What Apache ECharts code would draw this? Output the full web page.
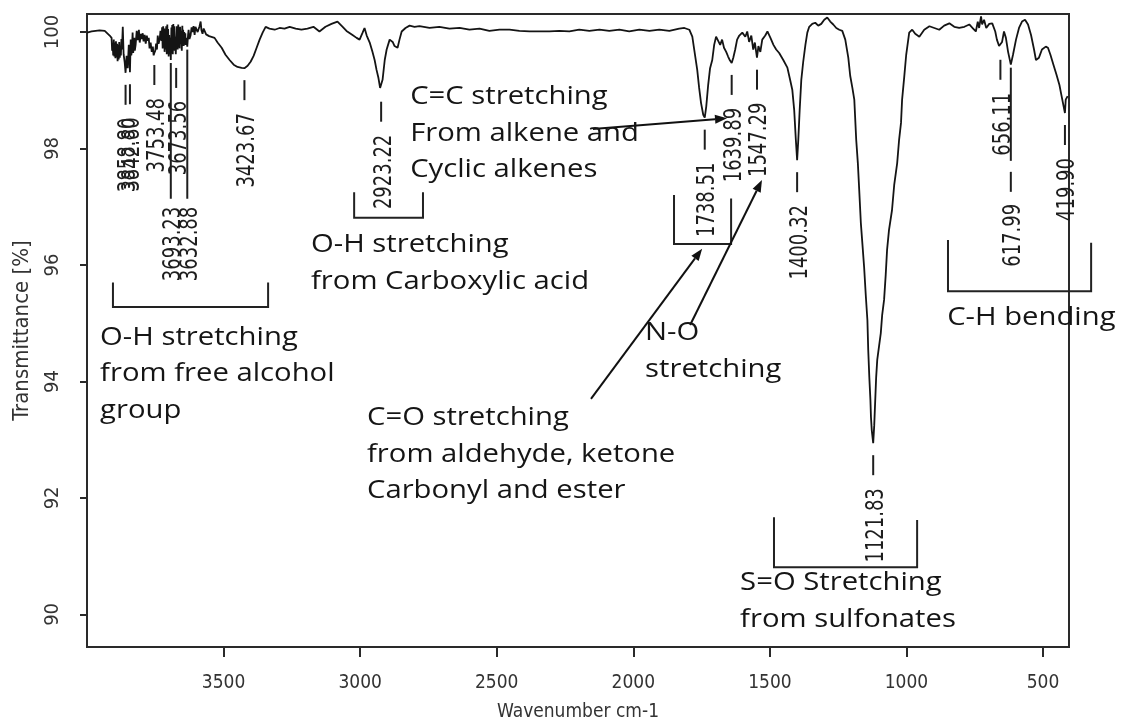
<!DOCTYPE html>
<html>
<head>
<meta charset="utf-8">
<title>FTIR spectrum</title>
<script src="https://cdn.jsdelivr.net/npm/echarts@6/dist/echarts.min.js"></script>
<style>
  html, body { margin: 0; padding: 0; background: #ffffff; }
  #chart { width: 1121px; height: 720px; }
</style>
</head>
<body>
<div id="chart"></div>
<script>
// IR spectrum: wavenumber (cm-1) and transmittance (%), row by row
const wavenumber = [
  4000, 3983, 3954, 3935, 3917, 3910, 3908, 3906, 3904, 3902,
  3900, 3898, 3896, 3894, 3892, 3890, 3888, 3886, 3884, 3882,
  3880, 3878, 3876, 3874, 3872, 3869, 3866, 3862, 3858.80, 3855,
  3851, 3847, 3844, 3842.80, 3840, 3838, 3836, 3833, 3831, 3829,
  3827, 3825, 3822, 3818, 3814, 3810, 3807, 3803, 3800, 3796,
  3793, 3789, 3785, 3781, 3778, 3774, 3771, 3767, 3763, 3759,
  3756, 3753.48, 3750, 3747, 3744, 3741, 3738, 3734, 3731, 3727,
  3725, 3723, 3721, 3719, 3717, 3716, 3714, 3712, 3710, 3708,
  3706, 3705, 3703, 3701, 3699, 3697, 3695, 3693.23, 3691, 3690,
  3688, 3686, 3684, 3683, 3681, 3679, 3677, 3675, 3673.56, 3672,
  3671, 3669, 3668, 3666, 3664, 3662, 3661, 3659, 3657, 3655,
  3653, 3651, 3650, 3648, 3646, 3644, 3642, 3640, 3639, 3636,
  3632.88, 3630, 3628, 3625, 3621, 3617, 3613, 3610, 3606, 3603,
  3599, 3595, 3591, 3588, 3584, 3581, 3577, 3573, 3569, 3564,
  3558, 3553, 3547, 3533, 3522, 3507, 3493, 3478, 3463, 3449,
  3434, 3423.67, 3412, 3401, 3390, 3379, 3368, 3357, 3346, 3332,
  3313, 3295, 3277, 3258, 3236, 3215, 3193, 3171, 3149, 3127,
  3105, 3083, 3064, 3050, 3028, 3013, 3002, 2991, 2984, 2976,
  2965, 2955, 2947, 2940, 2933, 2927, 2923.22, 2918, 2910, 2903,
  2892, 2881, 2874, 2863, 2856, 2848, 2834, 2819, 2801, 2783,
  2746, 2710, 2673, 2636, 2600, 2563, 2527, 2490, 2453, 2417,
  2380, 2344, 2307, 2271, 2234, 2198, 2161, 2124, 2088, 2051,
  2015, 1978, 1941, 1905, 1868, 1832, 1813, 1795, 1784, 1777,
  1766, 1759, 1752, 1744, 1738.51, 1733, 1726, 1719, 1711, 1704,
  1697, 1690, 1682, 1675, 1668, 1660, 1653, 1646, 1639.89, 1634,
  1627, 1620, 1612, 1601, 1590, 1583, 1576, 1568, 1561, 1555,
  1547.29, 1542, 1535, 1528, 1517, 1509, 1498, 1487, 1477, 1466,
  1451, 1436, 1426, 1418, 1411, 1405, 1400.32, 1396, 1391, 1385,
  1378, 1370, 1363, 1356, 1345, 1334, 1323, 1312, 1301, 1290,
  1279, 1268, 1257, 1246, 1235, 1224, 1213, 1206, 1198, 1191,
  1184, 1178, 1173, 1167, 1161, 1155, 1149, 1143, 1140, 1136,
  1132, 1130, 1127, 1121.83, 1118, 1111, 1107, 1100, 1094, 1089,
  1082, 1076, 1071, 1064, 1053, 1045, 1034, 1027, 1020, 1016,
  1008, 1001, 990, 979, 968, 953, 935, 916, 898, 880,
  862, 843, 825, 807, 788, 770, 756, 746, 739, 734,
  727, 723, 716, 708, 697, 686, 675, 669, 661, 656.11,
  650, 643, 636, 628, 617.99, 610, 599, 588, 577, 566,
  555, 544, 533, 526, 515, 504, 490, 482, 473, 462,
  451, 440, 433, 419.90, 417, 410
];
const transmittance = [
  99.99, 100.01, 100.03, 100.02, 99.94, 99.90, 99.68, 99.80, 99.60, 99.87,
  99.58, 99.82, 99.55, 99.84, 99.57, 99.80, 99.50, 99.78, 99.53, 99.83,
  99.56, 99.74, 99.60, 99.88, 99.70, 100.09, 99.62, 99.48, 99.30, 99.59,
  99.38, 99.78, 99.49, 99.31, 99.87, 99.60, 99.66, 99.99, 99.64, 99.73,
  99.90, 99.68, 99.78, 100.02, 99.86, 100.04, 99.82, 99.97, 99.88, 99.98,
  99.84, 99.95, 99.80, 99.94, 99.85, 99.90, 99.72, 99.82, 99.66, 99.75,
  99.60, 99.64, 99.68, 99.80, 99.70, 99.94, 99.80, 99.87, 100.02, 99.85,
  100.08, 99.72, 100.10, 99.75, 100.06, 99.66, 99.98, 99.70, 100.10, 99.62,
  100.13, 99.70, 100.05, 99.58, 99.95, 99.62, 99.90, 99.52, 100.08, 99.70,
  100.12, 99.62, 100.14, 99.80, 100.10, 99.68, 99.92, 99.62, 99.59, 100.10,
  99.80, 100.05, 99.70, 100.13, 99.76, 100.06, 99.72, 100.09, 99.80, 100.02,
  99.68, 100.11, 99.82, 100.04, 99.76, 100.00, 99.84, 99.98, 99.78, 99.90,
  99.75, 99.95, 100.04, 99.88, 99.94, 100.08, 100.00, 100.10, 99.95, 100.09,
  100.12, 100.00, 99.99, 100.10, 100.18, 100.03, 99.97, 100.06, 100.04, 99.96,
  99.99, 99.93, 99.94, 99.90, 99.82, 99.73, 99.61, 99.52, 99.44, 99.40,
  99.385, 99.38, 99.42, 99.49, 99.59, 99.73, 99.87, 99.99, 100.09, 100.06,
  100.04, 100.07, 100.06, 100.09, 100.06, 100.04, 100.06, 100.09, 100.01, 100.09,
  100.14, 100.18, 100.09, 100.02, 99.95, 99.90, 99.87, 99.99, 100.07, 99.94,
  99.82, 99.66, 99.52, 99.35, 99.21, 99.04, 99.01, 99.18, 99.52, 99.70,
  99.87, 99.83, 99.76, 99.73, 99.87, 100.01, 100.07, 100.11, 100.09, 100.10,
  100.07, 100.09, 100.06, 100.07, 100.04, 100.06, 100.02, 100.04, 100.04, 100.02,
  100.01, 100.01, 100.01, 100.02, 100.01, 100.04, 100.02, 100.04, 100.02, 100.04,
  100.01, 100.04, 100.02, 100.04, 100.02, 100.06, 100.07, 100.04, 99.92, 99.70,
  99.35, 99.04, 98.78, 98.58, 98.53, 98.72, 99.09, 99.38, 99.52, 99.78,
  99.92, 99.90, 99.78, 99.87, 99.73, 99.66, 99.58, 99.51, 99.47, 99.56,
  99.70, 99.87, 99.94, 99.99, 99.92, 100.01, 99.83, 99.94, 99.70, 99.82,
  99.56, 99.76, 99.66, 99.87, 99.94, 100.01, 99.90, 99.78, 99.70, 99.64,
  99.52, 99.39, 99.18, 99.01, 98.66, 98.15, 97.80, 98.15, 98.66, 99.18,
  99.49, 99.78, 99.99, 100.09, 100.14, 100.16, 100.11, 100.14, 100.21, 100.25,
  100.18, 100.13, 100.07, 100.04, 100.02, 99.87, 99.56, 99.25, 99.04, 98.84,
  98.15, 97.75, 97.29, 96.72, 96.34, 95.96, 95.48, 95.05, 94.54, 94.07,
  93.68, 93.39, 93.16, 92.94, 93.25, 94.07, 94.37, 94.62, 94.83, 95.14,
  95.40, 95.83, 96.26, 96.60, 96.94, 97.37, 97.75, 98.15, 98.44, 98.84,
  99.24, 99.61, 99.99, 100.04, 99.97, 99.92, 100.04, 100.10, 100.07, 100.04,
  100.11, 100.15, 100.09, 100.07, 100.09, 100.13, 100.06, 100.01, 100.18, 100.07,
  100.27, 100.13, 100.21, 100.07, 100.14, 100.15, 100.01, 99.87, 99.76, 99.73,
  99.83, 100.01, 99.90, 99.66, 99.44, 99.61, 99.87, 100.07, 100.18, 100.21,
  100.13, 99.95, 99.70, 99.52, 99.56, 99.70, 99.75, 99.73, 99.61, 99.44,
  99.27, 99.09, 98.92, 98.61, 98.84, 98.90
];

// Picked peaks (cm-1)
const peakWavenumbers = [
  3858.80, 3842.80, 3753.48, 3693.23, 3673.56, 3632.88, 3423.67, 2923.22,
  1738.51, 1639.89, 1547.29, 1400.32, 1121.83, 656.11, 617.99, 419.90
];

// Axis ticks
const xTicks = [500, 1000, 1500, 2000, 2500, 3000, 3500];
const yTicks = [90, 92, 94, 96, 98, 100];

// Peaks whose labels sit on a lower row, reached by a leader line
const leaderRows = {
  '3693.23': { row: 97.0, joined: true },
  '3632.88': { row: 97.0, joined: true },
  '617.99': { row: 97.05, joined: false }
};

// Band assignments: text anchor (wavenumber, %T of first line centre)
const bandNotes = [
  { text: 'O-H stretching\nfrom free alcohol\ngroup', at: [3952, 94.75] },
  { text: 'O-H stretching\nfrom Carboxylic acid', at: [3180, 96.34] },
  { text: 'C=C stretching\nFrom alkene and\nCyclic alkenes', at: [2817, 98.885] },
  { text: 'C=O stretching\nfrom aldehyde, ketone\nCarbonyl and ester', at: [2975, 93.37] },
  { text: 'N-O\nstretching', at: [1957, 94.83] },
  { text: 'S=O Stretching\nfrom sulfonates', at: [1609, 90.54] },
  { text: 'C-H bending', at: [851, 95.09] }
];
// Brackets: [left wn, right wn, left top %T, right top %T, bottom %T]
const bandBrackets = [
  [3905, 3337, 95.70, 95.70, 95.28],
  [3022, 2770, 97.25, 97.25, 96.81],
  [1851, 1642, 97.20, 97.14, 96.36],
  [1485, 961, 91.67, 91.62, 90.81],
  [848, 324, 96.43, 96.38, 95.55]
];
// Arrows: [from wn, from %T, to wn, to %T]
const bandArrows = [
  [2148, 98.335, 1657, 98.52],
  [2155, 93.70, 1748, 96.28],
  [1792, 94.97, 1529, 97.46]
];

const spectrum = wavenumber.map((w, i) => [w, transmittance[i]]);
const peakLabels = peakWavenumbers.map(w => w.toFixed(2));
const peakData = peakWavenumbers.map((w, i) => [w, transmittance[wavenumber.indexOf(w)], i]);

const axisFont = "'Liberation Sans Narrow', 'DejaVu Sans Condensed', 'Liberation Sans', sans-serif";
const ink = '#1e1e1e';

const chart = echarts.init(document.getElementById('chart'), null, { renderer: 'canvas' });

const option = {
  backgroundColor: '#ffffff',
  animation: false,
  grid: {
    left: 87, right: 52, top: 14, bottom: 73,
    containLabel: false, outerBoundsMode: 'none',
    show: true, borderColor: '#2a2a2a', borderWidth: 2, backgroundColor: 'transparent'
  },
  xAxis: {
    type: 'value', inverse: true, min: 405, max: 4000,
    name: 'Wavenumber cm-1', nameLocation: 'middle', nameGap: 56,
    nameTextStyle: { fontFamily: axisFont, fontSize: 19, color: '#333' },
    axisLine: { show: true, onZero: false, lineStyle: { color: '#2a2a2a', width: 2 } },
    axisTick: { show: true, customValues: xTicks, length: 10, lineStyle: { color: '#2a2a2a', width: 2 } },
    axisLabel: {
      customValues: xTicks, margin: 27, fontFamily: axisFont, fontSize: 19, color: '#333',
      formatter: v => String(Math.round(v))
    },
    splitLine: { show: false }
  },
  yAxis: {
    type: 'value', min: 89.44, max: 100.31,
    name: 'Transmittance [%]', nameLocation: 'middle', nameGap: 54, nameRotate: 90,
    nameTextStyle: { fontFamily: axisFont, fontSize: 22, color: '#333' },
    axisLine: { show: true, onZero: false, lineStyle: { color: '#2a2a2a', width: 2 } },
    axisTick: { show: true, customValues: yTicks, length: 7, lineStyle: { color: '#2a2a2a', width: 2 } },
    axisLabel: {
      customValues: yTicks, rotate: 90, margin: 24, fontFamily: axisFont, fontSize: 20, color: '#333',
      formatter: v => String(Math.round(v))
    },
    splitLine: { show: false }
  },
  series: [
    {
      type: 'line', name: 'spectrum', data: spectrum, showSymbol: false, silent: true,
      lineStyle: { color: '#141414', width: 1.8 }, z: 3
    },
    {
      type: 'custom', name: 'peaks', data: peakData, silent: true, clip: false, z: 4,
      renderItem: function (params, api) {
        const w = api.value(0), t = api.value(1), idx = api.value(2);
        const p = api.coord([w, t]);
        const label = peakLabels[idx];
        const lead = leaderRows[label];
        const children = [];
        const seg = (y1, y2) => children.push({
          type: 'line', shape: { x1: p[0], y1: y1, x2: p[0], y2: y2 },
          style: { stroke: ink, lineWidth: 2 }
        });
        let labelTop;
        if (lead) {
          labelTop = api.coord([w, lead.row])[1];
          if (lead.joined) {
            seg(p[1] + 3, labelTop - 8);
          } else {
            seg(p[1] + 3, labelTop - 43);
            seg(labelTop - 32, labelTop - 12);
          }
        } else {
          seg(p[1] + 12, p[1] + 32);
          labelTop = p[1] + 45;
        }
        children.push({
          type: 'text', x: p[0] + 3, y: labelTop, rotation: Math.PI / 2, scaleX: 1, scaleY: 1.25,
          style: {
            text: label, fill: ink, font: '20px ' + axisFont,
            align: 'right', verticalAlign: 'middle', textAlign: 'right', textVerticalAlign: 'middle'
          }
        });
        return { type: 'group', children: children };
      }
    }
  ]
};

chart.setOption(option);

// Band assignment overlay, placed through the axes
function drawNotes() {
  const px = (w, t) => chart.convertToPixel({ gridIndex: 0 }, [w, t]);
  const els = [];
  const lineH = 36.5;
  bandNotes.forEach(n => {
    const a = px(n.at[0], n.at[1]);
    els.push({
      type: 'text', x: a[0], y: a[1] - lineH / 2, scaleX: 1.17, scaleY: 1, originX: 0, originY: 0, z: 10,
      style: {
        text: n.text, fill: '#151515', font: '25px "Open Sans", sans-serif', lineHeight: lineH,
        align: 'left', verticalAlign: 'top', textAlign: 'left', textVerticalAlign: 'top'
      }
    });
  });
  bandBrackets.forEach(b => {
    const p1 = px(b[0], b[2]), p2 = px(b[0], b[4]), p3 = px(b[1], b[4]), p4 = px(b[1], b[3]);
    els.push({
      type: 'polyline', z: 9,
      shape: { points: [p1, p2, p3, p4] },
      style: { stroke: '#222', lineWidth: 2, fill: null }
    });
  });
  bandArrows.forEach(a => {
    const s = px(a[0], a[1]), e = px(a[2], a[3]);
    const dx = e[0] - s[0], dy = e[1] - s[1];
    const len = Math.sqrt(dx * dx + dy * dy);
    const ux = dx / len, uy = dy / len;
    const hl = 12, hw = 4.5;
    const bx = e[0] - ux * hl, by = e[1] - uy * hl;
    els.push({
      type: 'line', z: 9,
      shape: { x1: s[0], y1: s[1], x2: bx, y2: by },
      style: { stroke: '#111', lineWidth: 2 }
    });
    els.push({
      type: 'polygon', z: 9,
      shape: { points: [[e[0], e[1]], [bx - uy * hw, by + ux * hw], [bx + uy * hw, by - ux * hw]] },
      style: { fill: '#111' }
    });
  });
  chart.setOption({ graphic: els });
}
drawNotes();
</script>
</body>
</html>
